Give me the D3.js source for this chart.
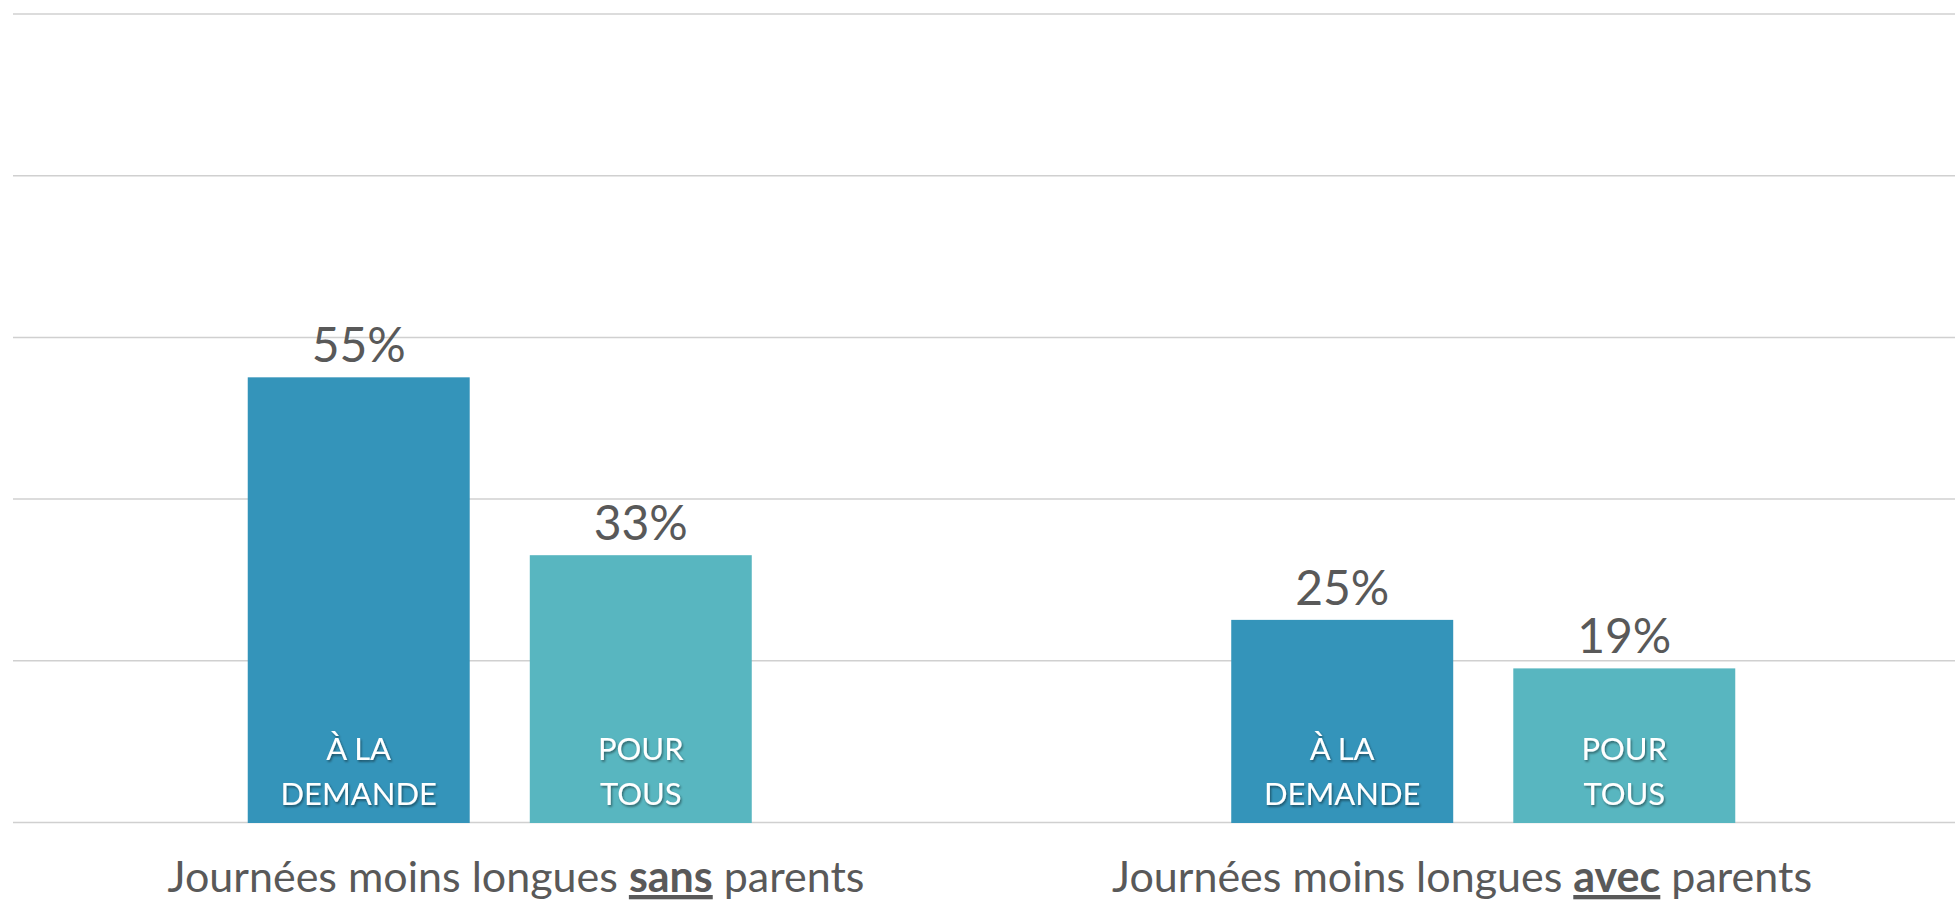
<!DOCTYPE html>
<html>
<head>
<meta charset="utf-8">
<script src="https://cdn.jsdelivr.net/npm/d3@7"></script>
<style>
  html, body { margin: 0; padding: 0; background: #fff; }
  svg { display: block; font-family: Lato, "Open Sans", sans-serif; }
</style>
</head>
<body>
<svg id="chart" width="1955" height="902"></svg>
<script>
// --- DATA ---
const groups = ["sans", "avec"];
const groupPrefix = "Journées moins longues ";
const groupSuffix = " parents";
const series = ["demande", "tous"];
const seriesLabels = [["À LA", "DEMANDE"], ["POUR", "TOUS"]];
const seriesColors = ["#3494BA", "#58B6C0"];
const valuesDemande = [55, 25];
const valuesTous = [33, 19];
const gridTicks = [0, 20, 40, 60, 80, 100];

const rows = groups.map((g, i) => ({
  group: g,
  items: [
    { key: "demande", value: valuesDemande[i] },
    { key: "tous", value: valuesTous[i] }
  ]
}));

// --- LAYOUT ---
const W = 1955, H = 902;
const svg = d3.select("#chart");

const y = d3.scaleLinear().domain([0, 100]).range([822, 13.5]);
const x0 = d3.scaleBand().domain(groups).range([8, 1975]);
const x1 = d3.scaleBand().domain(series).range([0, x0.bandwidth()])
  .paddingInner(0.213).paddingOuter(0.85);
// the category labels sit on a slightly narrower band than the bars
const xLabel = d3.scaleBand().domain(groups).range([43, 1935]);
const color = d3.scaleOrdinal().domain(series).range(seriesColors);

// drop shadow for in-bar labels
const defs = svg.append("defs");
defs.append("filter").attr("id", "shadow")
  .attr("x", "-20%").attr("y", "-20%").attr("width", "140%").attr("height", "140%")
  .append("feDropShadow")
  .attr("dx", 1.2).attr("dy", 1.8).attr("stdDeviation", 1)
  .attr("flood-color", "#000").attr("flood-opacity", 0.45);

// gridlines
svg.append("g")
  .attr("transform", "translate(13,0)")
  .call(d3.axisLeft(y).tickValues(gridTicks).tickSize(-(W - 13)).tickFormat(""))
  .call(g => g.select(".domain").remove())
  .call(g => g.selectAll(".tick line").attr("stroke", "#D0D0D0").attr("stroke-width", 1.5));

// bars
const groupG = svg.append("g").selectAll("g")
  .data(rows).join("g")
  .attr("transform", d => `translate(${x0(d.group)},0)`);

groupG.selectAll("rect")
  .data(d => d.items).join("rect")
  .attr("x", d => x1(d.key))
  .attr("y", d => y(d.value))
  .attr("width", x1.bandwidth())
  .attr("height", d => y(0) - y(d.value) + 1)
  .attr("fill", d => color(d.key));

// value labels
groupG.selectAll("text.val")
  .data(d => d.items).join("text")
  .attr("class", "val")
  .attr("x", d => x1(d.key) + x1.bandwidth() / 2)
  .attr("y", d => y(d.value) - 15)
  .attr("text-anchor", "middle")
  .attr("fill", "#595959")
  .style("font-size", "48px")
  .text(d => d.value + "%");

// in-bar labels
groupG.selectAll("text.inbar")
  .data(d => d.items).join("text")
  .attr("class", "inbar")
  .attr("text-anchor", "middle")
  .attr("fill", "#fff")
  .attr("filter", "url(#shadow)")
  .style("font-size", "31px")
  .each(function(d) {
    const lines = seriesLabels[series.indexOf(d.key)];
    const cx = x1(d.key) + x1.bandwidth() / 2;
    d3.select(this).selectAll("tspan")
      .data(lines).join("tspan")
      .attr("x", cx)
      .attr("y", (l, i) => 760 + i * 45)
      .text(l => l);
  });

// category labels
const cat = svg.append("g").selectAll("text")
  .data(groups).join("text")
  .attr("x", g => xLabel(g) + xLabel.bandwidth() / 2)
  .attr("y", 892)
  .attr("text-anchor", "middle")
  .attr("fill", "#595959")
  .style("font-size", "43px");

cat.append("tspan").text(groupPrefix);
cat.append("tspan")
  .style("font-weight", "bold")
  .style("text-decoration", "underline")
  .text(g => g);
cat.append("tspan").text(groupSuffix);
</script>
</body>
</html>
